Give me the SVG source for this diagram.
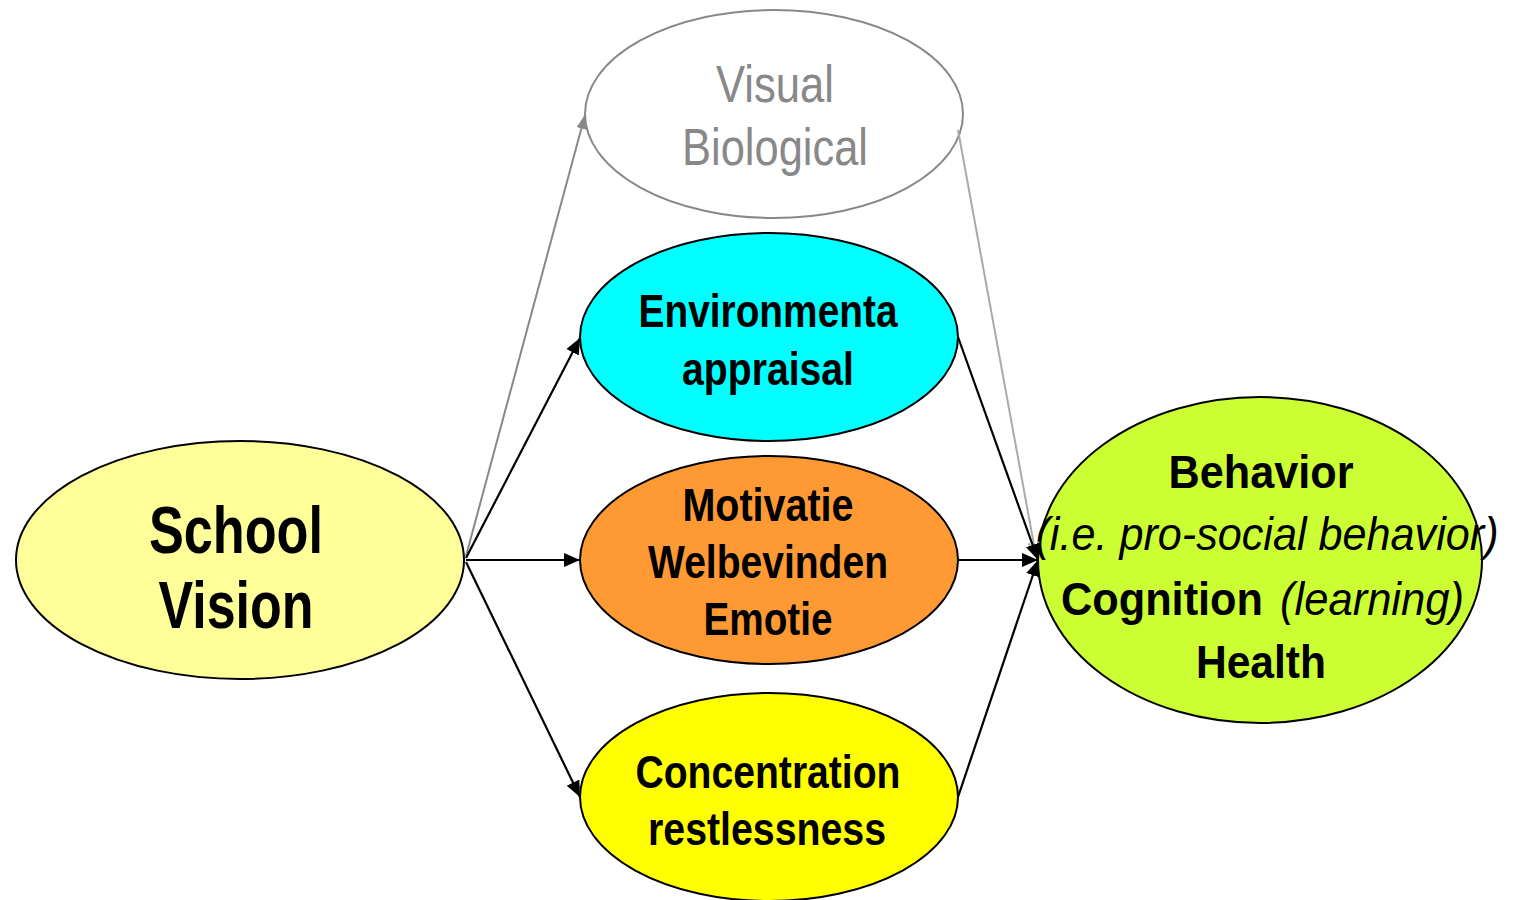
<svg xmlns="http://www.w3.org/2000/svg" width="1514" height="900" viewBox="0 0 1514 900">
<defs>
<style>
.n{stroke:#000;stroke-width:2}
.t{font-family:"Liberation Sans",Arial,sans-serif;font-weight:bold;fill:#000;text-anchor:middle}
.ti{font-family:"Liberation Sans",Arial,sans-serif;font-style:italic;fill:#000;text-anchor:middle}
.tg{font-family:"Liberation Sans",Arial,sans-serif;fill:#888;text-anchor:middle}
.c{stroke:#000;stroke-width:2.2;fill:none}
</style>
<marker id="ab" markerUnits="userSpaceOnUse" markerWidth="18" markerHeight="16" refX="16" refY="7" orient="auto"><path d="M0,0 L16,7 L0,14 z" fill="#000"/></marker>
<marker id="ag" markerUnits="userSpaceOnUse" markerWidth="16" markerHeight="12" refX="14" refY="5" orient="auto"><path d="M0,0 L14,5 L0,10 z" fill="#888"/></marker>
<marker id="ao" markerUnits="userSpaceOnUse" markerWidth="18" markerHeight="14" refX="15" refY="6" orient="auto"><path d="M1,1 L15,6 L1,11" fill="none" stroke="#aaa" stroke-width="2"/></marker>
</defs>
<rect width="1514" height="900" fill="#fff"/>
<g id="node-school">
<ellipse cx="240" cy="560" rx="224" ry="119" fill="#FFFF99" class="n"/>
<text class="t" x="236" y="553" font-size="67" textLength="174" lengthAdjust="spacingAndGlyphs">School</text>
<text class="t" x="236" y="628" font-size="67" textLength="155" lengthAdjust="spacingAndGlyphs">Vision</text>
</g>
<g id="node-visual">
<ellipse cx="774" cy="114" rx="189" ry="104" fill="#fff" stroke="#888" stroke-width="2"/>
<text class="tg" x="775" y="102" font-size="52" textLength="118" lengthAdjust="spacingAndGlyphs">Visual</text>
<text class="tg" x="775" y="165" font-size="52" textLength="186" lengthAdjust="spacingAndGlyphs">Biological</text>
</g>
<g id="node-env">
<ellipse cx="769" cy="337" rx="189" ry="104" fill="#00FFFF" class="n"/>
<text class="t" x="768" y="327" font-size="47" textLength="259" lengthAdjust="spacingAndGlyphs">Environmenta</text>
<text class="t" x="768" y="385" font-size="47" textLength="172" lengthAdjust="spacingAndGlyphs">appraisal</text>
</g>
<g id="node-motivatie">
<ellipse cx="769" cy="560" rx="189" ry="104" fill="#FF9933" class="n"/>
<text class="t" x="768" y="521" font-size="47" textLength="171" lengthAdjust="spacingAndGlyphs">Motivatie</text>
<text class="t" x="768" y="578" font-size="47" textLength="240" lengthAdjust="spacingAndGlyphs">Welbevinden</text>
<text class="t" x="768" y="635" font-size="47" textLength="129" lengthAdjust="spacingAndGlyphs">Emotie</text>
</g>
<g id="node-concentration">
<ellipse cx="769" cy="797" rx="189" ry="104" fill="#FFFF00" class="n"/>
<text class="t" x="768" y="788" font-size="47" textLength="265" lengthAdjust="spacingAndGlyphs">Concentration</text>
<text class="t" x="767" y="845" font-size="47" textLength="238" lengthAdjust="spacingAndGlyphs">restlessness</text>
</g>
<g id="node-behavior">
<ellipse cx="1260" cy="560" rx="222" ry="163" fill="#CCFF33" class="n"/>
<text class="t" x="1261" y="488" font-size="46" textLength="185" lengthAdjust="spacingAndGlyphs">Behavior</text>
<text class="ti" x="1267" y="550" font-size="46" textLength="463" lengthAdjust="spacingAndGlyphs">(i.e. pro-social behavior)</text>
<text class="t" x="1162" y="615" font-size="46" textLength="202" lengthAdjust="spacingAndGlyphs">Cognition</text>
<text class="ti" x="1372" y="615" font-size="46" textLength="184" lengthAdjust="spacingAndGlyphs">(learning)</text>
<text class="t" x="1261" y="678" font-size="46" textLength="130" lengthAdjust="spacingAndGlyphs">Health</text>
</g>
<g id="connectors">
<line x1="466" y1="556" x2="585" y2="115" stroke="#888" stroke-width="2" marker-end="url(#ag)"/>
<line x1="958" y1="130" x2="1036" y2="556" stroke="#aaa" stroke-width="2" marker-end="url(#ao)"/>
<line x1="466" y1="558" x2="580" y2="338" class="c" marker-end="url(#ab)"/>
<line x1="466" y1="560" x2="580" y2="560" class="c" marker-end="url(#ab)"/>
<line x1="466" y1="562" x2="580" y2="797" class="c" marker-end="url(#ab)"/>
<line x1="958" y1="337" x2="1038" y2="560" class="c" marker-end="url(#ab)"/>
<line x1="958" y1="560" x2="1038" y2="560" class="c" marker-end="url(#ab)"/>
<line x1="958" y1="797" x2="1038" y2="560" class="c" marker-end="url(#ab)"/>
</g>
</svg>
